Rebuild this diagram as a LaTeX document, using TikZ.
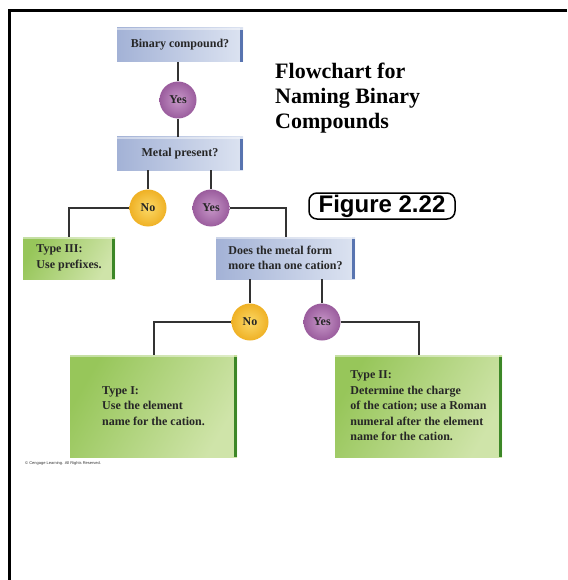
\documentclass[tikz,border=0pt]{standalone}
\usepackage{fontspec}
\setmainfont{Liberation Serif}
\newfontfamily\figfont{Liberation Sans}
\definecolor{qlight}{HTML}{DCE3F1}
\definecolor{qdark}{HTML}{A3B2D6}
\definecolor{qedge}{HTML}{5874B0}
\definecolor{tlight}{HTML}{CFE4A9}
\definecolor{tdark}{HTML}{97C65A}
\definecolor{tedge}{HTML}{3C8727}
\definecolor{yesin}{HTML}{C797C8}
\definecolor{yesout}{HTML}{9A5C9D}
\definecolor{noin}{HTML}{FBD866}
\definecolor{noout}{HTML}{EFB125}
\definecolor{wire}{HTML}{333333}

\begin{document}
\begin{tikzpicture}[x=1pt,y=-1pt]
				\tikzstyle{every node}=[font=\fontsize{12}{15.5}\selectfont\bfseries,text=black!85,inner sep=0pt,align=left]
				\tikzstyle{query}=[rectangle,left color=qdark,right color=qlight,
				path picture={
					\fill[qedge] ([xshift=-3pt,yshift=-2pt]path picture bounding box.north east) rectangle (path picture bounding box.south east);
					\fill[white,opacity=0.45] (path picture bounding box.north west) rectangle ([xshift=-3pt,yshift=-2pt]path picture bounding box.north east);
				}]
				\tikzstyle{result}=[rectangle,left color=tdark,right color=tlight,shading angle=60,
				path picture={
					\fill[tedge] ([xshift=-3pt,yshift=-2pt]path picture bounding box.north east) rectangle (path picture bounding box.south east);
					\fill[white,opacity=0.45] (path picture bounding box.north west) rectangle ([xshift=-3pt,yshift=-2pt]path picture bounding box.north east);
				}]
				\tikzstyle{yes}=[circle,minimum size=37pt,inner color=yesin,outer color=yesout]
				\tikzstyle{no}=[circle,minimum size=37pt,inner color=noin,outer color=noout]
				\tikzstyle{link}=[draw=wire,line width=2pt]
				\useasboundingbox (0,0) rectangle (567,580);
				\draw[line width=3pt] (567,11) -- (9,11) -- (9,580);
				% questions
				\node[query,minimum width=126pt,minimum height=34pt] (binary) at (180,45) {Binary compound?};
				\node[yes] (yesA) at (178,100) {Yes};
				\node[query,minimum width=126pt,minimum height=33pt] (metal) at (180,153.5) {Metal present?};
				\node[no] (noA) at (148,208) {No};
				\node[yes] (yesB) at (211,208) {Yes};
				\node[query,minimum width=139pt,minimum height=42pt] (cation) at (285.5,258) {Does the metal form\\more than one cation?};
				\node[no] (noB) at (250,322) {No};
				\node[yes] (yesC) at (322,322) {Yes};
				% answers
				\node[result,minimum width=92pt,minimum height=42pt] (typeIII) at (69,258) {Type III:\\Use prefixes.};
				\node[result,minimum width=167pt,minimum height=102pt] (typeI) at (153.5,406) {Type I:\\Use the element\\name for the cation.};
				\node[result,minimum width=167pt,minimum height=102pt] (typeII) at (418.5,406) {Type II:\\Determine the charge\\of the cation; use a Roman\\numeral after the element\\name for the cation.};
				% connectors
				\draw[link] (binary.south -| yesA) -- (yesA.north);
				\draw[link] (yesA.south) -- (metal.north -| yesA);
				\draw[link] (metal.south -| noA) -- (noA.north);
				\draw[link] (metal.south -| yesB) -- (yesB.north);
				\draw[link] (noA.west) -| (typeIII.north);
				\draw[link] (yesB.east) -| (cation.north);
				\draw[link] (cation.south -| noB) -- (noB.north);
				\draw[link] (cation.south -| yesC) -- (yesC.north);
				\draw[link] (noB.west) -| (typeI.north);
				\draw[link] (yesC.east) -| (typeII.north);
				% labels
				\node[anchor=north west,font=\fontsize{22}{25}\selectfont\bfseries,text=black] (title) at (275,62.5) {Flowchart for\\Naming Binary\\Compounds};
				\node[draw,line width=1.5pt,rounded corners=8pt,minimum width=146pt,minimum height=26pt,align=center,font=\figfont\fontsize{24}{26}\selectfont\bfseries,text=black] (figure) at (382,206) {Figure 2.22};
				\node[anchor=west,font=\figfont\fontsize{4}{5}\selectfont,text=black!80] (credit) at (25,463) {\textcopyright\ Cengage Learning. All Rights Reserved.};
				\end{tikzpicture}
\end{document}
